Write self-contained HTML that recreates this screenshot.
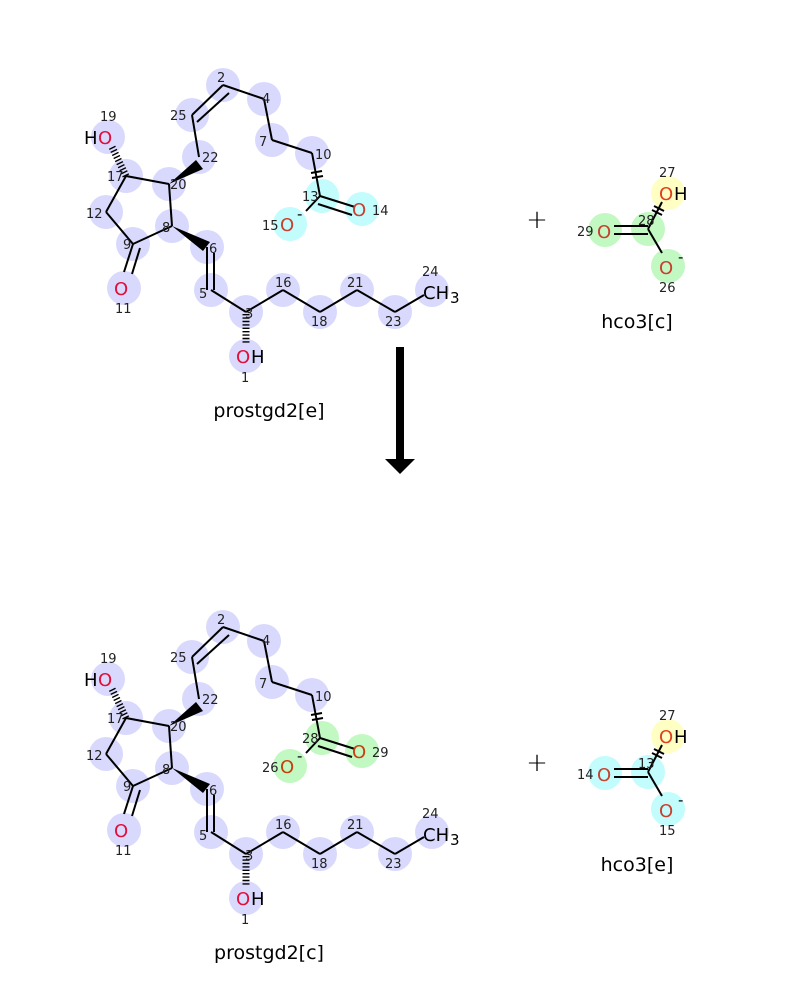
<!DOCTYPE html>
<html><head><meta charset="utf-8"><style>
html,body{margin:0;padding:0;background:#fff}
svg{display:block}
text{font-family:"DejaVu Sans","Liberation Sans",sans-serif}
.n{font-size:13px;fill:#222}
.a{font-size:18px}
.b{stroke:#000;stroke-width:2;fill:none}
.h{stroke:#000;stroke-width:7;stroke-dasharray:1.4 2}
</style></head><body>
<svg width="800" height="1000" viewBox="0 0 800 1000" xmlns="http://www.w3.org/2000/svg">
<!-- TOP prostgd2[e] -->
<g>
<g fill="#d9d9fd">
<circle cx="223" cy="85" r="17"/><circle cx="264" cy="99" r="17"/><circle cx="192" cy="115" r="17"/>
<circle cx="272" cy="140" r="17"/><circle cx="312" cy="153" r="17"/><circle cx="199" cy="157" r="17"/>
<circle cx="126" cy="176" r="17"/><circle cx="169" cy="184" r="17"/><circle cx="106" cy="212" r="17"/>
<circle cx="172" cy="226" r="17"/><circle cx="207" cy="247" r="17"/><circle cx="133" cy="244" r="17"/>
<circle cx="124" cy="288" r="17"/><circle cx="211" cy="290" r="17"/><circle cx="246" cy="312" r="17"/>
<circle cx="283" cy="290" r="17"/><circle cx="320" cy="312" r="17"/><circle cx="357" cy="290" r="17"/>
<circle cx="395" cy="312" r="17"/><circle cx="432" cy="290" r="17"/><circle cx="108" cy="137" r="17"/>
<circle cx="246" cy="356" r="17"/>
</g>
<g fill="#c2fcfc"><circle cx="322" cy="196" r="17"/><circle cx="362" cy="209" r="17"/><circle cx="290" cy="224" r="17"/></g>
<g class="b">
<line x1="223" y1="85" x2="192" y2="115"/><line x1="229" y1="93" x2="197" y2="122"/>
<line x1="223" y1="85" x2="264" y2="99"/><line x1="264" y1="99" x2="272" y2="140"/>
<line x1="272" y1="140" x2="312" y2="153"/><line x1="312" y1="153" x2="320" y2="196"/>
<line x1="320" y1="196" x2="355" y2="207"/><line x1="318" y1="204" x2="352" y2="215"/>
<line x1="320" y1="196" x2="306" y2="211"/>
<line x1="192" y1="115" x2="199" y2="157"/>
<line x1="169" y1="184" x2="126" y2="176"/><line x1="126" y1="176" x2="106" y2="212"/>
<line x1="106" y1="212" x2="133" y2="244"/><line x1="133" y1="244" x2="172" y2="226"/>
<line x1="172" y1="226" x2="169" y2="184"/>
<line x1="133" y1="244" x2="124" y2="272"/><line x1="140" y1="248" x2="132" y2="274"/>
<line x1="207" y1="247" x2="207" y2="290"/><line x1="214" y1="253" x2="214" y2="290"/>
<line x1="211" y1="290" x2="246" y2="312"/><line x1="246" y1="312" x2="283" y2="290"/>
<line x1="283" y1="290" x2="320" y2="312"/><line x1="320" y1="312" x2="357" y2="290"/>
<line x1="357" y1="290" x2="395" y2="312"/><line x1="395" y1="312" x2="424" y2="295"/>
<line x1="311" y1="173" x2="322" y2="171"/><line x1="312" y1="178" x2="323" y2="176"/>
</g>
<polygon points="169,184 196,160 203,169" fill="#000"/>
<polygon points="172,226 203,251 210,242" fill="#000"/>
<line x1="126" y1="176" x2="112" y2="147" class="h"/>
<line x1="246" y1="314" x2="246" y2="344" class="h"/>
<g class="n">
<text x="217" y="82">2</text><text x="262" y="103">4</text><text x="170" y="120">25</text>
<text x="259" y="146">7</text><text x="315" y="159">10</text><text x="202" y="162">22</text>
<text x="107" y="181">17</text><text x="170" y="189">20</text><text x="86" y="218">12</text>
<text x="162" y="232">8</text><text x="209" y="253">6</text><text x="123" y="249">9</text>
<text x="199" y="298">5</text><text x="245" y="318">3</text><text x="275" y="287">16</text>
<text x="311" y="326">18</text><text x="347" y="287">21</text><text x="385" y="326">23</text>
<text x="422" y="276">24</text><text x="100" y="121">19</text><text x="115" y="313">11</text>
<text x="241" y="382">1</text><text x="302" y="201">13</text><text x="372" y="215">14</text>
<text x="262" y="230">15</text>
</g>
<text class="a" x="84" y="144" fill="#000">H</text><text class="a" x="98" y="144" fill="#e0103a">O</text>
<text class="a" x="114" y="295" fill="#e0103a">O</text>
<text class="a" x="236" y="363" fill="#e0103a">O</text><text class="a" x="251" y="363" fill="#000">H</text>
<text class="a" x="423" y="299" fill="#000">CH</text><text x="450" y="303" font-size="15" fill="#000">3</text>
<text class="a" x="280" y="231" fill="#c84030">O</text><text x="297" y="219" font-size="15">-</text>
<text class="a" x="352" y="216" fill="#c84030">O</text>
<text x="269" y="417" font-size="19" text-anchor="middle">prostgd2[e]</text>
</g>
<!-- TOP hco3[c] -->
<text x="537" y="228" font-size="26" text-anchor="middle" font-weight="300">+</text>
<circle cx="605" cy="230" r="17" fill="#c2f8c2"/><circle cx="648" cy="229" r="17" fill="#c2f8c2"/>
<circle cx="668" cy="266" r="17" fill="#c2f8c2"/><circle cx="668" cy="193" r="17" fill="#ffffc4"/>
<g class="b"><line x1="614" y1="226" x2="648" y2="226"/><line x1="614" y1="234" x2="648" y2="234"/>
<line x1="648" y1="229" x2="662" y2="202"/><line x1="648" y1="229" x2="662" y2="253"/>
<line x1="652" y1="210" x2="662" y2="215"/><line x1="654" y1="206" x2="664" y2="211"/></g>
<text class="a" x="597" y="238" fill="#c84030">O</text><text class="n" x="577" y="236">29</text>
<text class="n" x="638" y="225">28</text>
<text class="a" x="659" y="200" fill="#e04020">O</text><text class="a" x="674" y="200">H</text><text class="n" x="659" y="177">27</text>
<text class="a" x="659" y="274" fill="#c84030">O</text><text x="678" y="262" font-size="15">-</text><text class="n" x="659" y="292">26</text>
<text x="637" y="328" font-size="19" text-anchor="middle">hco3[c]</text>
<!-- Arrow -->
<rect x="396" y="347" width="8" height="114" fill="#000"/>
<polygon points="385,459 415,459 400,474" fill="#000"/>
<!-- BOTTOM prostgd2[c] -->
<g transform="translate(0,542)">
<g fill="#d9d9fd">
<circle cx="223" cy="85" r="17"/><circle cx="264" cy="99" r="17"/><circle cx="192" cy="115" r="17"/>
<circle cx="272" cy="140" r="17"/><circle cx="312" cy="153" r="17"/><circle cx="199" cy="157" r="17"/>
<circle cx="126" cy="176" r="17"/><circle cx="169" cy="184" r="17"/><circle cx="106" cy="212" r="17"/>
<circle cx="172" cy="226" r="17"/><circle cx="207" cy="247" r="17"/><circle cx="133" cy="244" r="17"/>
<circle cx="124" cy="288" r="17"/><circle cx="211" cy="290" r="17"/><circle cx="246" cy="312" r="17"/>
<circle cx="283" cy="290" r="17"/><circle cx="320" cy="312" r="17"/><circle cx="357" cy="290" r="17"/>
<circle cx="395" cy="312" r="17"/><circle cx="432" cy="290" r="17"/><circle cx="108" cy="137" r="17"/>
<circle cx="246" cy="356" r="17"/>
</g>
<g fill="#c2f8c2"><circle cx="322" cy="196" r="17"/><circle cx="362" cy="209" r="17"/><circle cx="290" cy="224" r="17"/></g>
<g class="b">
<line x1="223" y1="85" x2="192" y2="115"/><line x1="229" y1="93" x2="197" y2="122"/>
<line x1="223" y1="85" x2="264" y2="99"/><line x1="264" y1="99" x2="272" y2="140"/>
<line x1="272" y1="140" x2="312" y2="153"/><line x1="312" y1="153" x2="320" y2="196"/>
<line x1="320" y1="196" x2="355" y2="207"/><line x1="318" y1="204" x2="352" y2="215"/>
<line x1="320" y1="196" x2="306" y2="211"/>
<line x1="192" y1="115" x2="199" y2="157"/>
<line x1="169" y1="184" x2="126" y2="176"/><line x1="126" y1="176" x2="106" y2="212"/>
<line x1="106" y1="212" x2="133" y2="244"/><line x1="133" y1="244" x2="172" y2="226"/>
<line x1="172" y1="226" x2="169" y2="184"/>
<line x1="133" y1="244" x2="124" y2="272"/><line x1="140" y1="248" x2="132" y2="274"/>
<line x1="207" y1="247" x2="207" y2="290"/><line x1="214" y1="253" x2="214" y2="290"/>
<line x1="211" y1="290" x2="246" y2="312"/><line x1="246" y1="312" x2="283" y2="290"/>
<line x1="283" y1="290" x2="320" y2="312"/><line x1="320" y1="312" x2="357" y2="290"/>
<line x1="357" y1="290" x2="395" y2="312"/><line x1="395" y1="312" x2="424" y2="295"/>
<line x1="311" y1="173" x2="322" y2="171"/><line x1="312" y1="178" x2="323" y2="176"/>
</g>
<polygon points="169,184 196,160 203,169" fill="#000"/>
<polygon points="172,226 203,251 210,242" fill="#000"/>
<line x1="126" y1="176" x2="112" y2="147" class="h"/>
<line x1="246" y1="314" x2="246" y2="344" class="h"/>
<g class="n">
<text x="217" y="82">2</text><text x="262" y="103">4</text><text x="170" y="120">25</text>
<text x="259" y="146">7</text><text x="315" y="159">10</text><text x="202" y="162">22</text>
<text x="107" y="181">17</text><text x="170" y="189">20</text><text x="86" y="218">12</text>
<text x="162" y="232">8</text><text x="209" y="253">6</text><text x="123" y="249">9</text>
<text x="199" y="298">5</text><text x="245" y="318">3</text><text x="275" y="287">16</text>
<text x="311" y="326">18</text><text x="347" y="287">21</text><text x="385" y="326">23</text>
<text x="422" y="276">24</text><text x="100" y="121">19</text><text x="115" y="313">11</text>
<text x="241" y="382">1</text><text x="302" y="201">28</text><text x="372" y="215">29</text>
<text x="262" y="230">26</text>
</g>
<text class="a" x="84" y="144" fill="#000">H</text><text class="a" x="98" y="144" fill="#e0103a">O</text>
<text class="a" x="114" y="295" fill="#e0103a">O</text>
<text class="a" x="236" y="363" fill="#e0103a">O</text><text class="a" x="251" y="363" fill="#000">H</text>
<text class="a" x="423" y="299" fill="#000">CH</text><text x="450" y="303" font-size="15" fill="#000">3</text>
<text class="a" x="280" y="231" fill="#c84010">O</text><text x="297" y="219" font-size="15">-</text>
<text class="a" x="352" y="216" fill="#c84010">O</text>
<text x="269" y="417" font-size="19" text-anchor="middle">prostgd2[c]</text>
</g>
<!-- BOTTOM hco3[e] -->
<g transform="translate(0,543)">
<text x="537" y="228" font-size="26" text-anchor="middle" font-weight="300">+</text>
<circle cx="605" cy="230" r="17" fill="#c2fcfc"/><circle cx="648" cy="229" r="17" fill="#c2fcfc"/>
<circle cx="668" cy="266" r="17" fill="#c2fcfc"/><circle cx="668" cy="193" r="17" fill="#ffffc4"/>
<g class="b"><line x1="614" y1="226" x2="648" y2="226"/><line x1="614" y1="234" x2="648" y2="234"/>
<line x1="648" y1="229" x2="662" y2="202"/><line x1="648" y1="229" x2="662" y2="253"/>
<line x1="652" y1="210" x2="662" y2="215"/><line x1="654" y1="206" x2="664" y2="211"/></g>
<text class="a" x="597" y="238" fill="#c84030">O</text><text class="n" x="577" y="236">14</text>
<text class="n" x="638" y="225">13</text>
<text class="a" x="659" y="200" fill="#e04020">O</text><text class="a" x="674" y="200">H</text><text class="n" x="659" y="177">27</text>
<text class="a" x="659" y="274" fill="#c84030">O</text><text x="678" y="262" font-size="15">-</text><text class="n" x="659" y="292">15</text>
<text x="637" y="328" font-size="19" text-anchor="middle">hco3[e]</text>
</g>
</svg>
</body></html>
